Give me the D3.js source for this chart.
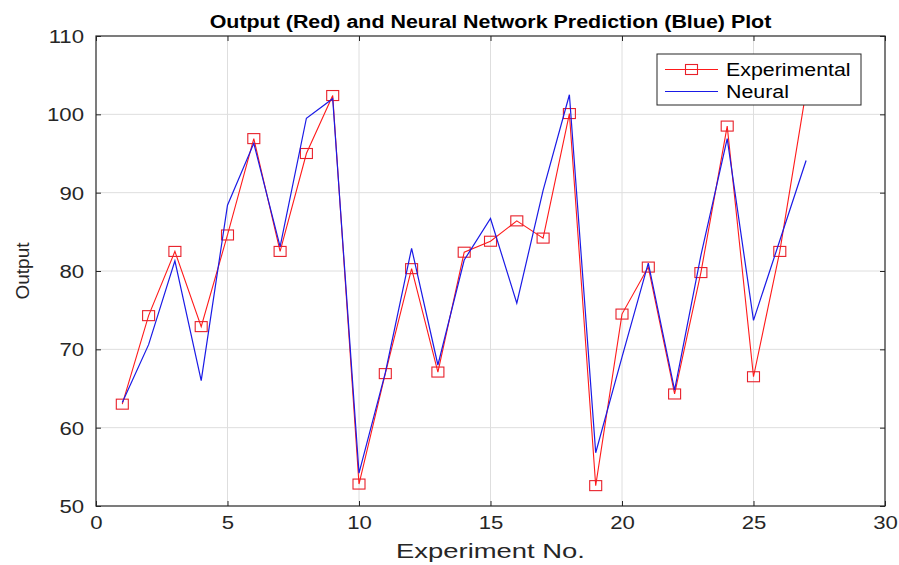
<!DOCTYPE html>
<html>
<head>
<meta charset="utf-8">
<script src="https://cdn.jsdelivr.net/npm/d3@7"></script>
<style>
  html, body { margin: 0; padding: 0; background: #ffffff; }
  svg { display: block; }
  text { font-family: "Liberation Sans", Arial, Helvetica, sans-serif; }
</style>
</head>
<body>
<svg id="chart" width="899" height="565"></svg>
<script>
// ---- data ----
const experimentNo = [1,2,3,4,5,6,7,8,9,10,11,12,13,14,15,16,17,18,19,20,21,22,23,24,25,26,27];
const experimental = [63.0, 74.3, 82.5, 72.9, 84.6, 96.9, 82.5, 95.0, 102.4, 52.8, 66.9, 80.3, 67.1, 82.4, 83.8, 86.4, 84.2, 100.1, 52.6, 74.5, 80.5, 64.3, 79.8, 98.5, 66.5, 82.5, 103.0];
const neural       = [63.2, 70.6, 81.3, 66.0, 88.4, 96.3, 83.1, 99.5, 102.0, 54.2, 67.0, 82.9, 68.0, 81.4, 86.7, 75.9, 90.3, 102.5, 56.8, 69.0, 81.0, 64.8, 82.0, 96.9, 73.7, 83.9, 94.1];
const xTicks = [0, 5, 10, 15, 20, 25, 30];
const yTicks = [50, 60, 70, 80, 90, 100, 110];
const seriesNames = ["Experimental", "Neural"];
const titleText = "Output (Red) and Neural Network Prediction (Blue) Plot";
const xLabelText = "Experiment No.";
const yLabelText = "Output";

// ---- layout ----
const W = 899, H = 565;
const L = 96, R = 885, T = 36, B = 506;

const svg = d3.select("#chart");
svg.append("rect").attr("width", W).attr("height", H).attr("fill", "#fff");

const x = d3.scaleLinear().domain([0, 30]).range([L, R]);
const y = d3.scaleLinear().domain([50, 110]).range([B, T]);

function stretch(sel, f) {
  sel.each(function () {
    const len = this.getComputedTextLength();
    d3.select(this).attr("textLength", len * f).attr("lengthAdjust", "spacingAndGlyphs");
  });
}

// grid
const grid = svg.append("g").attr("stroke", "#dedede").attr("stroke-width", 1);
grid.selectAll("line.vx").data(xTicks.slice(1, -1)).join("line")
  .attr("x1", d => x(d)).attr("x2", d => x(d)).attr("y1", T).attr("y2", B);
grid.selectAll("line.hy").data(yTicks.slice(1, -1)).join("line")
  .attr("y1", d => y(d)).attr("y2", d => y(d)).attr("x1", L).attr("x2", R);

// lines
const lineGen = d3.line().x((d, i) => x(experimentNo[i])).y(d => y(d));
const plot = svg.append("g");
plot.append("path").datum(experimental).attr("d", lineGen)
  .attr("fill", "none").attr("stroke", "#ff1a1a").attr("stroke-width", 1.1);
plot.selectAll("rect.mk").data(experimental).join("rect").attr("class", "mk")
  .attr("x", (d, i) => x(experimentNo[i]) - 6).attr("y", d => y(d) - 5)
  .attr("width", 12).attr("height", 10)
  .attr("fill", "none").attr("stroke", "#e8202a").attr("stroke-width", 1.1);
plot.append("path").datum(neural).attr("d", lineGen)
  .attr("fill", "none").attr("stroke", "#1a1ae6").attr("stroke-width", 1.2);

// axes
const axisColor = "#262626";
function styleAxis(g) {
  g.select(".domain").remove();
  g.selectAll(".tick line").attr("stroke", axisColor);
  g.selectAll(".tick text").attr("fill", axisColor)
    .style("font-size", "18px")
    .style("font-family", '"Liberation Sans", Arial, sans-serif');
}
const gx = svg.append("g").attr("transform", `translate(0,${B})`)
  .call(d3.axisBottom(x).tickValues(xTicks).tickSizeInner(-5).tickSizeOuter(0).tickPadding(10));
styleAxis(gx);
stretch(gx.selectAll(".tick text"), 1.23);
const gy = svg.append("g").attr("transform", `translate(${L},0)`)
  .call(d3.axisLeft(y).tickValues(yTicks).tickSizeInner(-5).tickSizeOuter(0).tickPadding(12));
styleAxis(gy);
gy.selectAll(".tick text").attr("dy", "0.36em");
stretch(gy.selectAll(".tick text"), 1.23);
const gt = svg.append("g").attr("transform", `translate(0,${T})`)
  .call(d3.axisTop(x).tickValues(xTicks).tickSizeInner(-5).tickSizeOuter(0).tickFormat(""));
styleAxis(gt);
const gr = svg.append("g").attr("transform", `translate(${R},0)`)
  .call(d3.axisRight(y).tickValues(yTicks).tickSizeInner(-5).tickSizeOuter(0).tickFormat(""));
styleAxis(gr);

// box
svg.append("rect").attr("x", L).attr("y", T).attr("width", R - L).attr("height", B - T)
  .attr("fill", "none").attr("stroke", axisColor).attr("stroke-width", 1.2);

// title & labels
const title = svg.append("text").attr("x", (L + R) / 2).attr("y", 28)
  .attr("text-anchor", "middle").style("font-size", "18px").style("font-weight", "bold")
  .attr("fill", "#000").text(titleText);
stretch(title, 1.19);
const xl = svg.append("text").attr("x", (L + R) / 2).attr("y", 558)
  .attr("text-anchor", "middle").style("font-size", "20px").attr("fill", axisColor).text(xLabelText);
stretch(xl, 1.37);
svg.append("text").attr("transform", `translate(29,${(T + B) / 2}) rotate(-90)`)
  .attr("text-anchor", "middle").style("font-size", "19px").attr("fill", axisColor).text(yLabelText);

// legend
const lg = svg.append("g");
lg.append("rect").attr("x", 657).attr("y", 54).attr("width", 204).attr("height", 51)
  .attr("fill", "#fff").attr("stroke", axisColor).attr("stroke-width", 1);
const legendRows = [
  { name: seriesNames[0], color: "#ff1a1a", marker: true, yy: 69.5 },
  { name: seriesNames[1], color: "#1a1ae6", marker: false, yy: 91.5 }
];
legendRows.forEach(r => {
  lg.append("line").attr("x1", 665).attr("x2", 718).attr("y1", r.yy).attr("y2", r.yy)
    .attr("stroke", r.color).attr("stroke-width", 1.1);
  if (r.marker) {
    lg.append("rect").attr("x", 691.5 - 6).attr("y", r.yy - 5).attr("width", 12).attr("height", 10)
      .attr("fill", "none").attr("stroke", "#e8202a").attr("stroke-width", 1.1);
  }
  const t = lg.append("text").attr("x", 726).attr("y", r.yy).attr("dy", "0.36em")
    .style("font-size", "17.5px").attr("fill", "#000").text(r.name);
  stretch(t, 1.22);
});
</script>
</body>
</html>
